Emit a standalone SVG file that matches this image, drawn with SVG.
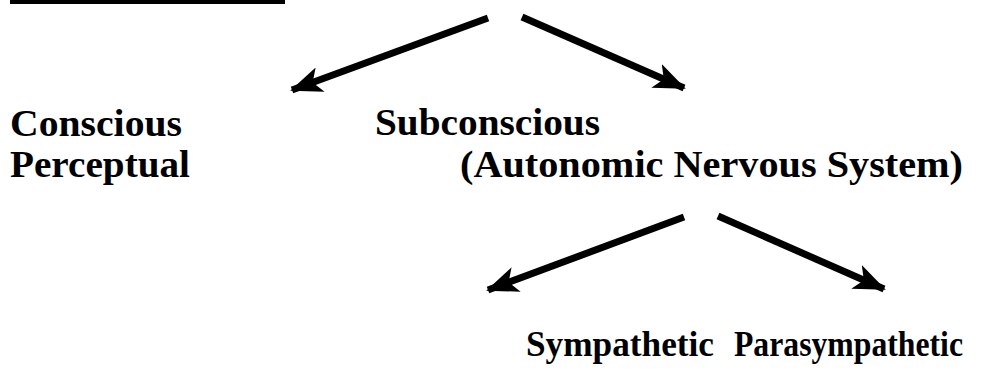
<svg xmlns="http://www.w3.org/2000/svg" width="992" height="377" viewBox="0 0 992 377">
<style>
.t{font-family:"Liberation Serif","Times New Roman",serif;font-weight:bold;fill:#000}
.c{stroke:#000;stroke-width:7;fill:none}
</style>
<defs>
<marker id="ah" viewBox="0 0 32 26" refX="30" refY="13" markerWidth="32" markerHeight="26" markerUnits="userSpaceOnUse" orient="auto">
<path d="M0,0 L32,13 L0,26 L8,13 Z" fill="#000"/>
</marker>
</defs>
<rect x="10" y="0" width="275" height="4" fill="#000"/>
<g id="connectors">
<path class="c" d="M488,18 L292,90" marker-end="url(#ah)"/>
<path class="c" d="M522,17 L684,88" marker-end="url(#ah)"/>
<path class="c" d="M684,217 L488,290" marker-end="url(#ah)"/>
<path class="c" d="M718,216 L884,289" marker-end="url(#ah)"/>
</g>
<g id="conscious">
<text class="t" x="10" y="136" font-size="37" textLength="172" lengthAdjust="spacingAndGlyphs">Conscious</text>
<text class="t" x="10" y="177" font-size="37" textLength="180" lengthAdjust="spacingAndGlyphs">Perceptual</text>
</g>
<g id="subconscious">
<text class="t" x="375" y="135" font-size="37" textLength="225" lengthAdjust="spacingAndGlyphs">Subconscious</text>
<text class="t" x="460" y="177" font-size="37" textLength="503" lengthAdjust="spacingAndGlyphs">(Autonomic Nervous System)</text>
</g>
<g id="sympathetic">
<text class="t" x="526" y="356" font-size="35" textLength="188" lengthAdjust="spacingAndGlyphs">Sympathetic</text>
</g>
<g id="parasympathetic">
<text class="t" x="734" y="356" font-size="35" textLength="229" lengthAdjust="spacingAndGlyphs">Parasympathetic</text>
</g>
</svg>
